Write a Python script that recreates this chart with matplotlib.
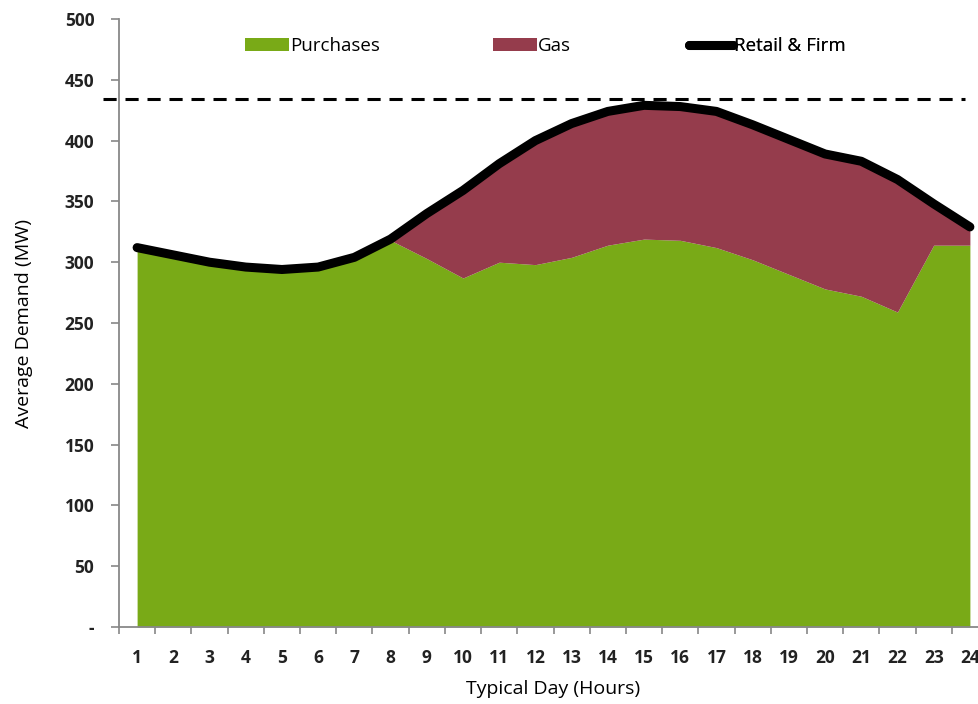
import numpy as np
import matplotlib
matplotlib.use('Agg')
import matplotlib.pyplot as plt
from matplotlib.patches import Patch
from matplotlib.lines import Line2D

# Datos
hours = np.arange(1, 25)
hour_labels = [str(h) for h in hours]
purchases = [312, 306, 300, 296, 294, 296, 304, 318, 303, 287, 300, 298,
             304, 314, 319, 318, 312, 302, 290, 278, 272, 259, 314, 314]
gas = [0, 0, 0, 0, 0, 0, 0, 0, 37, 72, 81, 102,
       110, 110, 110, 110, 112, 111, 111, 111, 111, 109, 34, 15]
retail_firm = [312, 306, 300, 296, 294, 296, 304, 319, 340, 359, 381, 400,
               414, 424, 429, 428, 424, 413, 401, 389, 383, 368, 348, 329]
capacity = 434
y_ticks = [0, 50, 100, 150, 200, 250, 300, 350, 400, 450, 500]
y_tick_labels = ['-'] + [str(v) for v in y_ticks[1:]]

green = '#79AA17'
maroon = '#953C4C'
font = 'Open Sans'

fig = plt.figure(figsize=(9.79, 7.04), dpi=100)
ax = fig.add_axes([119 / 979, 77 / 704, 869 / 979, 608 / 704])

purchases = np.array(purchases)
gas = np.array(gas)
ax.fill_between(hours, 0, purchases, color=green, linewidth=0)
ax.fill_between(hours, purchases, purchases + gas, color=maroon, linewidth=0)
ax.plot(hours, retail_firm, color='black', linewidth=6.5, solid_capstyle='round',
        solid_joinstyle='round')
ax.axhline(capacity, xmin=-0.018, xmax=0.973, color='black', linewidth=2.2,
           linestyle=(0, (4.3, 2.9)), clip_on=False)

ax.set_xlim(0.5, 24.5)
ax.set_ylim(0, 500)

# ejes estilo Excel: marcas entre categorías, etiquetas al centro
ax.set_xticks(np.arange(0.5, 25, 1))
ax.set_xticklabels([])
ax.set_xticks(hours, minor=True)
ax.set_xticklabels(hour_labels, minor=True, fontsize=12.5, fontweight='bold',
                   family=font, color='#222222')
ax.tick_params(axis='x', which='major', length=5, width=1.2, color='#888888', direction='out')
ax.tick_params(axis='x', which='minor', length=0, pad=15.5)

ax.set_yticks(y_ticks)
ax.set_yticklabels(y_tick_labels, fontsize=12.5, fontweight='bold', family=font,
                   color='#222222')
ax.tick_params(axis='y', length=5.8, width=1.2, color='#888888', pad=12)

for side in ['top', 'right']:
    ax.spines[side].set_visible(False)
for side in ['left', 'bottom']:
    ax.spines[side].set_color('#888888')
    ax.spines[side].set_linewidth(1.3)

ax.set_ylabel('Average Demand (MW)', fontsize=14, family=font, labelpad=23)
ax.set_xlabel('Typical Day (Hours)', fontsize=14, family=font, labelpad=10)

# leyenda: tres entradas separadas
entries = [
    (Patch(facecolor=green, edgecolor='none'), 'Purchases', 0.145),
    (Patch(facecolor=maroon, edgecolor='none'), 'Gas', 0.43),
    (Line2D([], [], color='black', linewidth=6.5, solid_capstyle='round'), 'Retail & Firm', 0.656),
]
for handle, label, xpos in entries:
    leg = ax.legend([handle], [label], loc='center left', bbox_to_anchor=(xpos, 0.955),
                    frameon=False, handlelength=2.35, handleheight=0.7, handletextpad=0.05,
                    borderpad=0, borderaxespad=0,
                    prop={'family': font, 'size': 13.5})
    ax.add_artist(leg)

fig.savefig('out.png', dpi=100)
